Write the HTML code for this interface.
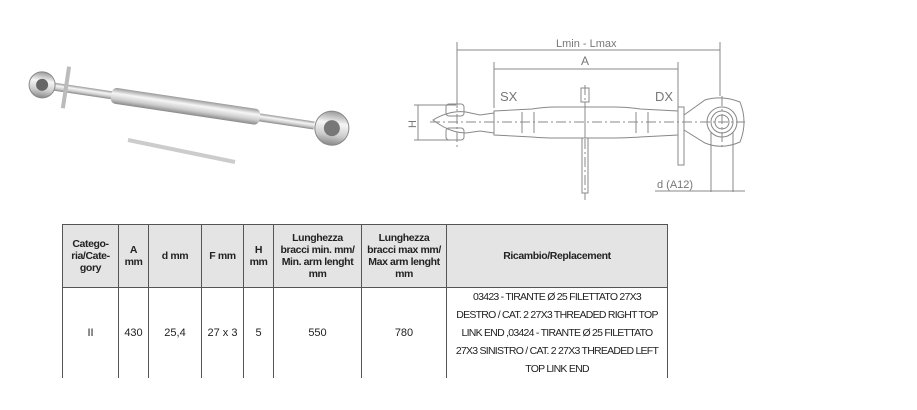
<!DOCTYPE html>
<html><head><style>
body{margin:0;width:917px;height:410px;background:#fff;overflow:hidden;position:relative;font-family:"Liberation Sans",sans-serif}
table{position:absolute;left:62px;top:224px;border-collapse:collapse;font-family:"Liberation Sans",sans-serif;font-size:10.5px;color:#222;text-align:center}
td{border:1px solid #555;padding:0;vertical-align:middle}
tr.h td{background:#e4e4e4;font-weight:bold;height:62px;line-height:12px;letter-spacing:-0.4px}
tr.b td{height:90px;border-bottom:none;font-size:11px}
tr.b td.r{line-height:18px;font-size:10.5px;white-space:nowrap;letter-spacing:-0.75px}
</style></head><body>
<svg width="917" height="224" style="position:absolute;left:0;top:0">
<defs><linearGradient id="g" x1="0" y1="0" x2="0" y2="1"><stop offset="0" stop-color="#999"/><stop offset=".35" stop-color="#f6f6f6"/><stop offset=".7" stop-color="#ccc"/><stop offset="1" stop-color="#888"/></linearGradient></defs>
<g transform="rotate(8.5 190 110)">
<rect x="40" y="103" width="275" height="8" fill="url(#g)"/>
<rect x="110" y="99" width="150" height="16" rx="5" fill="url(#g)"/>
<circle cx="40" cy="107" r="13" fill="url(#g)" stroke="#888"/><circle cx="40" cy="107" r="6" fill="#666"/>
<circle cx="333" cy="107" r="17" fill="url(#g)" stroke="#888"/><circle cx="333" cy="107" r="8" fill="#777"/>
<rect x="62" y="85" width="4" height="42" fill="#bbb"/>
</g>
<line x1="128" y1="140" x2="235" y2="162" stroke="#ccc" stroke-width="4"/>
<g stroke="#888" fill="none" stroke-width="1">
<line x1="457" y1="50" x2="720" y2="50"/><line x1="457" y1="42" x2="457" y2="108"/><line x1="720" y1="42" x2="720" y2="96"/>
<line x1="494" y1="69" x2="678" y2="69"/><line x1="494" y1="62" x2="494" y2="108"/><line x1="678" y1="62" x2="678" y2="108"/>
<path d="M494 111 L532 109 Q545 107 555 107 L615 107 Q628 107 640 109 L678 111 L678 135 L640 137 Q628 138 615 138 L555 138 Q545 138 532 137 L494 135 Z" fill="#fff"/>
<line x1="522" y1="112" x2="522" y2="133"/><line x1="534" y1="112" x2="534" y2="133"/><line x1="636" y1="112" x2="636" y2="133"/><line x1="648" y1="112" x2="648" y2="133"/>
<path d="M494 113 L480 115 L466 112 Q450 110 433 120 Q450 133 466 133 L480 131 L494 133"/>
<rect x="446" y="104" width="18" height="12" rx="3"/><rect x="446" y="128" width="18" height="12" rx="3"/>
<rect x="678" y="107" width="6" height="58"/>
<path d="M684 115 L705 100 Q722 95 740 102 Q748 122 740 142 Q722 150 705 143 L684 130"/>
<circle cx="722" cy="122" r="15"/><circle cx="722" cy="122" r="11"/><circle cx="722" cy="122" r="7"/>
<rect x="581" y="88" width="8" height="14"/><rect x="582" y="138" width="6" height="55"/><line x1="585" y1="102" x2="585" y2="138"/>
<line x1="418" y1="105" x2="418" y2="140"/><line x1="414" y1="105" x2="456" y2="105"/><line x1="414" y1="140" x2="456" y2="140"/>
<line x1="711" y1="132" x2="711" y2="192"/><line x1="733" y1="132" x2="733" y2="192"/>
<line x1="655" y1="191" x2="745" y2="191"/>
<line x1="430" y1="122" x2="745" y2="122" stroke-dasharray="10 3 2 3"/>
<line x1="457" y1="96" x2="457" y2="150" stroke-dasharray="10 3 2 3"/>
<line x1="722" y1="96" x2="722" y2="150" stroke-dasharray="10 3 2 3"/>
<line x1="585" y1="85" x2="585" y2="200" stroke-dasharray="10 3 2 3"/>
</g>
<g fill="#777" font-size="12" font-family="Liberation Sans,sans-serif">
<text x="556" y="47" font-size="11">Lmin - Lmax</text><text x="581" y="65">A</text>
<text x="500" y="101" font-size="13">SX</text><text x="655" y="101" font-size="13">DX</text>
<text x="407" y="127" font-size="11" transform="rotate(-90 412 123)">H</text>
<text x="657" y="188" font-size="11">d  (A12)</text>
</g>
<line x1="693" y1="268" x2="693" y2="280" stroke="#bbb"/>
</svg>
<table>
<tr class="h"><td style="width:55px">Catego-<br>ria/Cate-<br>gory</td><td style="width:29px">A<br>mm</td><td style="width:52px">d mm</td><td style="width:41px">F mm</td><td style="width:29px">H<br>mm</td><td style="width:87px">Lunghezza<br>bracci min. mm/<br>Min. arm lenght<br>mm</td><td style="width:84px">Lunghezza<br>bracci max mm/<br>Max arm lenght<br>mm</td><td style="width:220px">Ricambio/Replacement</td></tr>
<tr class="b"><td>II</td><td>430</td><td>25,4</td><td>27 x 3</td><td>5</td><td>550</td><td>780</td><td class="r">03423 - TIRANTE Ø 25 FILETTATO 27X3<br>DESTRO / CAT. 2 27X3 THREADED RIGHT TOP<br>LINK END ,03424 - TIRANTE Ø 25 FILETTATO<br>27X3 SINISTRO / CAT. 2 27X3 THREADED LEFT<br>TOP LINK END</td></tr>
</table>
</body></html>
